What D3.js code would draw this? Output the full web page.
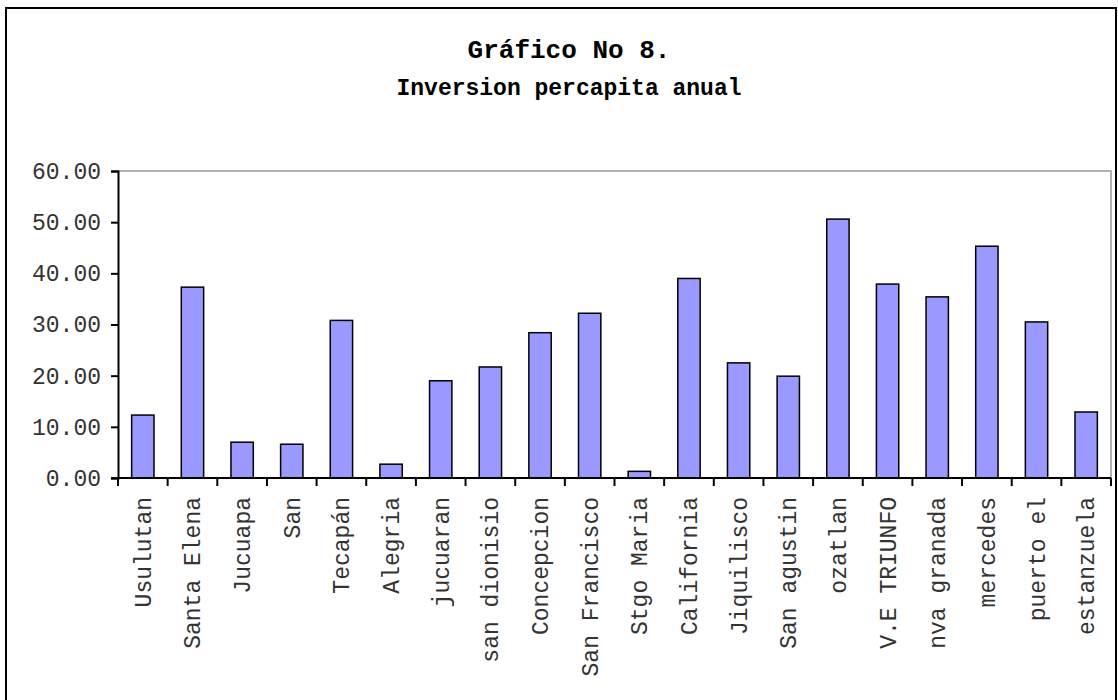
<!DOCTYPE html>
<html>
<head>
  <meta charset="utf-8">
  <title>Grafico No 8</title>
  <script src="https://cdn.jsdelivr.net/npm/d3@7"></script>
  <style>
    body { margin: 0; background: #fff; }
    text { font-family: "Liberation Mono", "Courier New", monospace; fill: #000; }
  </style>
</head>
<body>
<script>
  let [w, h] = [1118, 700]

  // data
  var municipios = ["Usulutan", "Santa Elena", "Jucuapa", "San", "Tecapán", "Alegria",
    "jucuaran", "san dionisio", "Concepcion", "San Francisco", "Stgo Maria", "California",
    "Jiquilisco", "San agustin", "ozatlan", "V.E TRIUNFO", "nva granada", "mercedes",
    "puerto el", "estanzuela"]
  var inversion = [12.3, 37.3, 7.0, 6.6, 30.8, 2.7, 19.0, 21.7, 28.4, 32.2, 1.3, 39.0,
    22.5, 19.9, 50.6, 37.9, 35.4, 45.3, 30.5, 12.9]
  var yTicks = [0, 10, 20, 30, 40, 50, 60]
  var titulo = ["Gráfico No 8.", "Inversion percapita anual"]

  var margin = { left: 118, right: 1111, top: 171, bottom: 478 }

  var svg = d3.select("body").append("svg")
    .attr("width", w)
    .attr("height", h)

  // outer frame
  svg.append("rect")
    .attr("x", 6).attr("y", 8)
    .attr("width", 1110).attr("height", 700)
    .attr("fill", "none").attr("stroke", "#000").attr("stroke-width", 2)

  // title
  svg.selectAll(".title").data(titulo).enter().append("text")
    .attr("class", "title")
    .attr("x", 569)
    .attr("y", (d, i) => i == 0 ? 58 : 95)
    .attr("text-anchor", "middle")
    .style("font-weight", "bold")
    .style("font-size", (d, i) => i == 0 ? "26px" : "23px")
    .text(d => d)

  var x = d3.scaleBand()
    .domain(municipios)
    .range([margin.left, margin.right])
    .paddingInner(0.55)
    .paddingOuter(0.275)

  var y = d3.scaleLinear()
    .domain([0, 60])
    .range([margin.bottom, margin.top])

  // plot area border (top/right grey)
  svg.append("path")
    .attr("d", `M${margin.left},${margin.top}H${margin.right}V${margin.bottom}`)
    .attr("fill", "none").attr("stroke", "#999").attr("stroke-width", 1.5)

  // bars
  svg.selectAll(".bar").data(inversion).enter().append("rect")
    .attr("class", "bar")
    .attr("x", (d, i) => x(municipios[i]))
    .attr("width", x.bandwidth())
    .attr("y", d => y(d))
    .attr("height", d => y(0) - y(d))
    .attr("fill", "#9999FF")
    .attr("stroke", "#000")
    .attr("stroke-width", 1.5)

  // y axis
  var yAxis = d3.axisLeft(y)
    .tickValues(yTicks)
    .tickFormat(d3.format(".2f"))
    .tickSize(7)
    .tickPadding(10)
  var gy = svg.append("g")
    .attr("transform", `translate(${margin.left},0)`)
    .call(yAxis)
  gy.select(".domain").attr("stroke", "#000").attr("stroke-width", 2)
  gy.selectAll(".tick line").attr("stroke", "#000").attr("stroke-width", 2)
  gy.selectAll(".tick text")
    .style("font-size", "23px")
    .style("fill", "#333")

  // x axis: ticks at category boundaries
  var bounds = d3.range(municipios.length + 1).map(i => margin.left + i * (margin.right - margin.left) / municipios.length)
  svg.append("line")
    .attr("x1", margin.left - 7).attr("x2", margin.right)
    .attr("y1", margin.bottom).attr("y2", margin.bottom)
    .attr("stroke", "#000").attr("stroke-width", 2)
  svg.selectAll(".xtick").data(bounds).enter().append("line")
    .attr("class", "xtick")
    .attr("x1", d => d).attr("x2", d => d)
    .attr("y1", margin.bottom).attr("y2", margin.bottom + 8)
    .attr("stroke", "#000").attr("stroke-width", 2)

  svg.selectAll(".xlabel").data(municipios).enter().append("text")
    .attr("class", "xlabel")
    .attr("transform", d => `translate(${x(d) + x.bandwidth() / 2 + 8},${margin.bottom + 19}) rotate(-90)`)
    .attr("text-anchor", "end")
    .style("font-size", "23px")
    .style("fill", "#333")
    .text(d => d)
</script>
</body>
</html>
